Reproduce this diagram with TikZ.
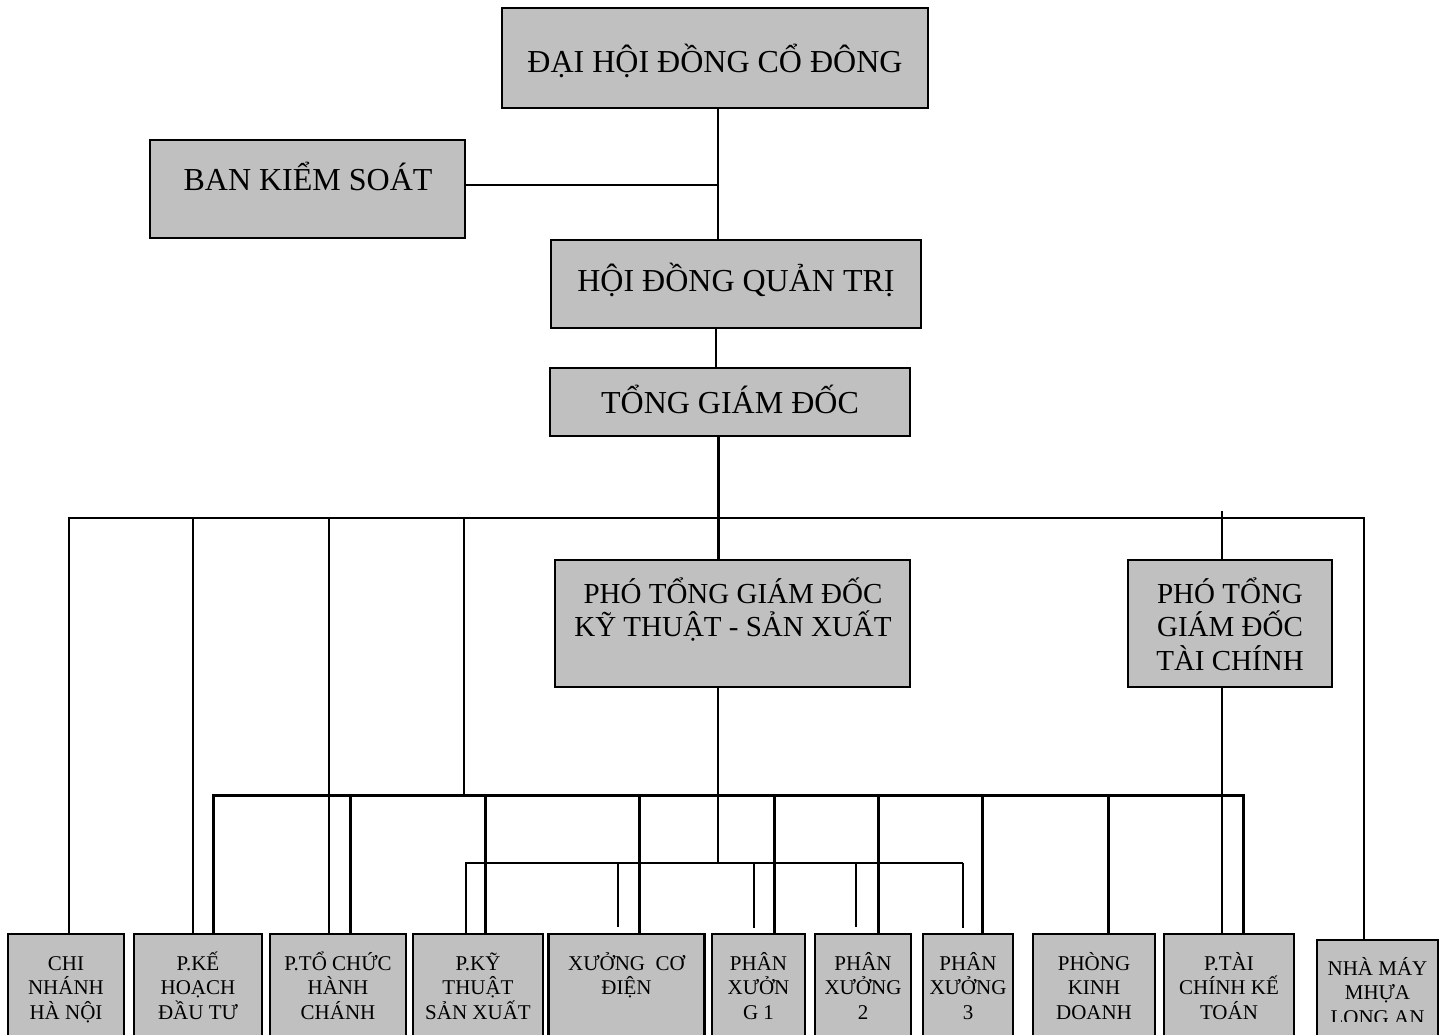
\documentclass[tikz,border=0pt]{standalone}
\usepackage{fontspec}
\setmainfont{Liberation Serif}
\definecolor{boxgray}{HTML}{C0C0C0}
\newcommand\mystack[1]{\vtop{\lineskiplimit=-100pt\lineskip=0pt\halign{\hfil##\hfil\cr#1\crcr}}}
\tikzset{
  box/.style={draw=black, line width=2.2pt, fill=boxgray, inner sep=0pt, outer sep=0pt},
  thinln/.style={line width=1.7pt},
  medln/.style={line width=2.3pt},
  thickln/.style={line width=3pt},
  bigtxt/.style={font=\fontsize{32}{38}\selectfont, inner sep=0pt, anchor=base},
  midtxt/.style={font=\fontsize{29}{33.5}\selectfont, inner sep=0pt, anchor=base},
  smalltxt/.style={font=\fontsize{21}{24.5}\selectfont, inner sep=0pt, anchor=base},
}
\begin{document}
\begin{tikzpicture}[x=1pt,y=-1pt]
\useasboundingbox (0,0) rectangle (1445,1035);
\clip (0,0) rectangle (1445,1035);
\fill[white] (0,0) rectangle (1445,1035);

% ---------- upper boxes ----------
\node[box, minimum width=426pt, minimum height=100pt] (dhdcd) at (715,58) {};
\node[box, minimum width=315pt, minimum height=98pt]  (bks)   at (307.5,189) {};
\node[box, minimum width=370pt, minimum height=88pt]  (hdqt)  at (736,284) {};
\node[box, minimum width=360pt, minimum height=68pt]  (tgd)   at (730,402) {};
\node[box, minimum width=355pt, minimum height=127pt] (pgdkt) at (732.5,623.5) {};
\node[box, minimum width=204pt, minimum height=127pt] (pgdtc) at (1230,623.5) {};

\node[bigtxt] (tdhdcd) at (715,73)  {ĐẠI HỘI ĐỒNG CỔ ĐÔNG};
\node[bigtxt] (tbks)   at (308,191) {BAN KIỂM SOÁT};
\node[bigtxt] (thdqt)  at (736,291) {HỘI ĐỒNG QUẢN TRỊ};
\node[bigtxt] (ttgd)   at (730,413) {TỔNG GIÁM ĐỐC};
\node[midtxt] (tpgdkt) at (733,603) {\mystack{PHÓ TỔNG GIÁM ĐỐC\cr KỸ THUẬT - SẢN XUẤT}};
\node[midtxt] (tpgdtc) at (1230,603) {\mystack{PHÓ TỔNG\cr GIÁM ĐỐC\cr TÀI CHÍNH}};

% ---------- bottom boxes ----------
\node[box, minimum width=116pt, minimum height=126pt] (chi)   at (66,997) {};
\node[box, minimum width=128pt, minimum height=126pt] (pke)   at (198,997) {};
\node[box, minimum width=136pt, minimum height=126pt] (ptc)   at (338,997) {};
\node[box, minimum width=130pt, minimum height=126pt] (pkt)   at (478,997) {};
\node[box, minimum width=156pt, minimum height=126pt] (xcd)   at (626.5,997) {};
\node[box, minimum width=93pt,  minimum height=126pt] (px1)   at (758.5,997) {};
\node[box, minimum width=96pt,  minimum height=126pt] (px2)   at (863,997) {};
\node[box, minimum width=90pt,  minimum height=126pt] (px3)   at (968,997) {};
\node[box, minimum width=122pt, minimum height=126pt] (pkd)   at (1094,997) {};
\node[box, minimum width=130pt, minimum height=126pt] (ptckt) at (1229,997) {};
\node[box, minimum width=121pt, minimum height=120pt] (nmm)   at (1377.5,1000) {};

\node[smalltxt] (tchi)   at (66,970)   {\mystack{CHI\cr NHÁNH\cr HÀ NỘI}};
\node[smalltxt] (tpke)   at (198,970)  {\mystack{P.KẾ\cr HOẠCH\cr ĐẦU TƯ}};
\node[smalltxt] (tptc)   at (338,970)  {\mystack{P.TỔ CHỨC\cr HÀNH\cr CHÁNH}};
\node[smalltxt] (tpkt)   at (478,970)  {\mystack{P.KỸ\cr THUẬT\cr SẢN XUẤT}};
\node[smalltxt] (txcd)   at (626.5,970) {\mystack{XƯỞNG~~CƠ\cr ĐIỆN}};
\node[smalltxt] (tpx1)   at (758.5,970) {\mystack{PHÂN\cr XƯỞN\cr G 1}};
\node[smalltxt] (tpx2)   at (863,970)  {\mystack{PHÂN\cr XƯỞNG\cr 2}};
\node[smalltxt] (tpx3)   at (968,970)  {\mystack{PHÂN\cr XƯỞNG\cr 3}};
\node[smalltxt] (tpkd)   at (1094,970) {\mystack{PHÒNG\cr KINH\cr DOANH}};
\node[smalltxt] (tptckt) at (1229,970) {\mystack{P.TÀI\cr CHÍNH KẾ\cr TOÁN}};
\begin{scope}
  \clip (1317,940) rectangle (1438,1021);
  \node[smalltxt] (tnmm) at (1377.5,975) {\mystack{NHÀ MÁY\cr MHỰA\cr LONG AN}};
\end{scope}

% ---------- connectors: top part ----------
\coordinate (jA) at (718,185);
\draw[thinln] (dhdcd.south -| jA) -- (hdqt.north -| jA);
\draw[thinln] (bks.east |- jA) -- (jA);
\coordinate (jB) at (716,330);
\draw[thinln] (hdqt.south -| jB) -- (tgd.north -| jB);
\coordinate (jC) at (718,436);
\draw[thickln] (tgd.south -| jC) -- (pgdkt.north -| jC);

% ---------- top bus ----------
\coordinate (busL) at (68,518);
\coordinate (busR) at (1364,518);
\draw[thinln] (busL) -- (busR) -- (nmm.north -| busR);
\coordinate (dChi) at (69,518);
\coordinate (dPke) at (193,518);
\coordinate (dPtc) at (329,518);
\coordinate (dLow) at (464,518);
\draw[thinln] (dChi) -- (chi.north -| dChi);
\draw[thinln] (dPke) -- (pke.north -| dPke);
\draw[thinln] (dPtc) -- (ptc.north -| dPtc);

% ---------- PGD tai chinh ----------
\coordinate (jT) at (1222,511);
\draw[thinln] (jT) -- (pgdtc.north -| jT);
\draw[thinln] (pgdtc.south -| jT) -- (ptckt.north -| jT);

% ---------- lower bus ----------
\coordinate (lbL) at (213,795);
\coordinate (lbR) at (1243,795);
\coordinate (lbJ) at (464,795);
\draw[medln] (dLow) -- (lbJ);
\draw[thickln] (pke.north -| lbL) -- (lbL) -- (lbR) -- (ptckt.north -| lbR);
\coordinate (lPtc) at (350,795);
\coordinate (lPkt) at (485,795);
\coordinate (lXcd) at (639,795);
\coordinate (lPx1) at (774,795);
\coordinate (lPx2) at (878,795);
\coordinate (lPx3) at (982,795);
\coordinate (lPkd) at (1108,795);
\draw[thickln] (lPtc) -- (ptc.north -| lPtc);
\draw[thickln] (lPkt) -- (pkt.north -| lPkt);
\draw[thickln] (lXcd) -- (xcd.north -| lXcd);
\draw[thickln] (lPx1) -- (px1.north -| lPx1);
\draw[thickln] (lPx2) -- (px2.north -| lPx2);
\draw[thickln] (lPx3) -- (px3.north -| lPx3);
\draw[thickln] (lPkd) -- (pkd.north -| lPkd);

% ---------- third bus ----------
\coordinate (tbL) at (466,863);
\coordinate (tbR) at (963,863);
\coordinate (tbJ) at (718,863);
\draw[medln] (pgdkt.south -| jC) -- (tbJ);
\draw[medln] (pkt.north -| tbL) -- (tbL) -- (tbR);
\coordinate (e1) at (618,927);
\coordinate (e2) at (754,928);
\coordinate (e3) at (856,927);
\coordinate (e4) at (963,928);
\draw[thinln] (e1 |- tbL) -- (e1);
\draw[thinln] (e2 |- tbL) -- (e2);
\draw[thinln] (e3 |- tbL) -- (e3);
\draw[thinln] (tbR) -- (e4);
\end{tikzpicture}
\end{document}
